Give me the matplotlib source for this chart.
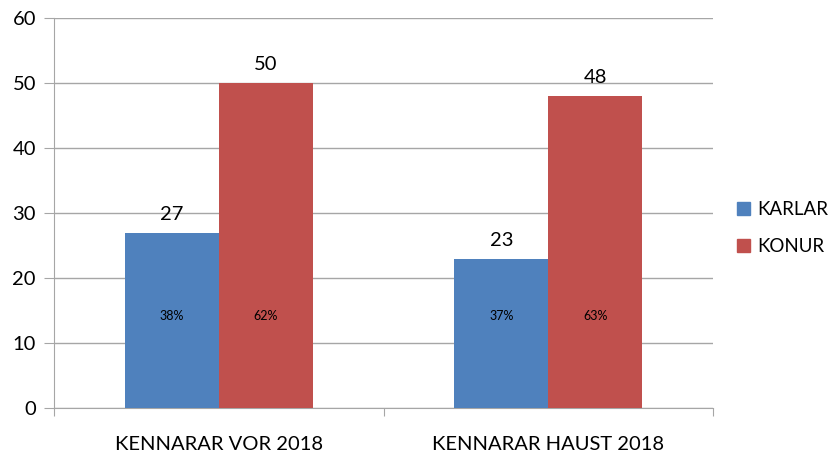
import numpy as np
from matplotlib import pyplot as plt
from matplotlib.patches import Patch

categories = ["KENNARAR VOR 2018", "KENNARAR HAUST 2018"]
karlar = [27, 23]
konur = [50, 48]
karlar_pct = ["38%", "37%"]
konur_pct = ["62%", "63%"]

plt.rcParams['font.family'] = ['Lato', 'DejaVu Sans']

blue = '#4f81bd'
red = '#c0504d'
grid = '#a6a6a6'

fig = plt.figure(figsize=(8.31, 4.53), dpi=100)
ax = fig.add_axes([54 / 831, 1 - 408 / 453, 659 / 831, 390 / 453])

x = np.arange(len(categories))
w = 0.285

ax.bar(x - w / 2, karlar, w, color=blue, zorder=3)
ax.bar(x + w / 2, konur, w, color=red, zorder=3)

# value labels on top and percent labels inside
for i in range(len(categories)):
    ax.text(x[i] - w / 2, karlar[i] + 1.5, str(karlar[i]), ha='center', va='bottom', fontsize=14.5)
    ax.text(x[i] + w / 2, konur[i] + 1.5, str(konur[i]), ha='center', va='bottom', fontsize=14.5)
    ax.text(x[i] - w / 2, 14.2, karlar_pct[i], ha='center', va='center', fontsize=9)
    ax.text(x[i] + w / 2, 14.2, konur_pct[i], ha='center', va='center', fontsize=9)

ax.set_xlim(-0.5, 1.5)
ax.set_ylim(0, 60)
ax.set_yticks(range(0, 61, 10))
ax.yaxis.grid(True, color=grid, linewidth=1, zorder=0)
ax.tick_params(axis='y', length=7, color=grid, labelsize=14.5, pad=6)

ax.set_xticks([-0.5, 0.5, 1.5])
ax.set_xticklabels([])
ax.set_xticks(x, minor=True)
ax.set_xticklabels(categories, minor=True)
ax.tick_params(axis='x', which='major', length=6, color=grid)
ax.tick_params(axis='x', which='minor', length=0, labelsize=14.5, pad=20)

for s in ['top', 'right']:
    ax.spines[s].set_visible(False)
for s in ['left', 'bottom']:
    ax.spines[s].set_color(grid)

handles = [Patch(color=blue, label='KARLAR'), Patch(color=red, label='KONUR')]
fig.legend(handles=handles, loc='center left', bbox_to_anchor=(731 / 831, 1 - 228 / 453),
           frameon=False, fontsize=13.5, handlelength=0.7, handleheight=0.7,
           handletextpad=0.4, labelspacing=1.1, borderaxespad=0, borderpad=0.3)

fig.savefig('out.png', dpi=100)
